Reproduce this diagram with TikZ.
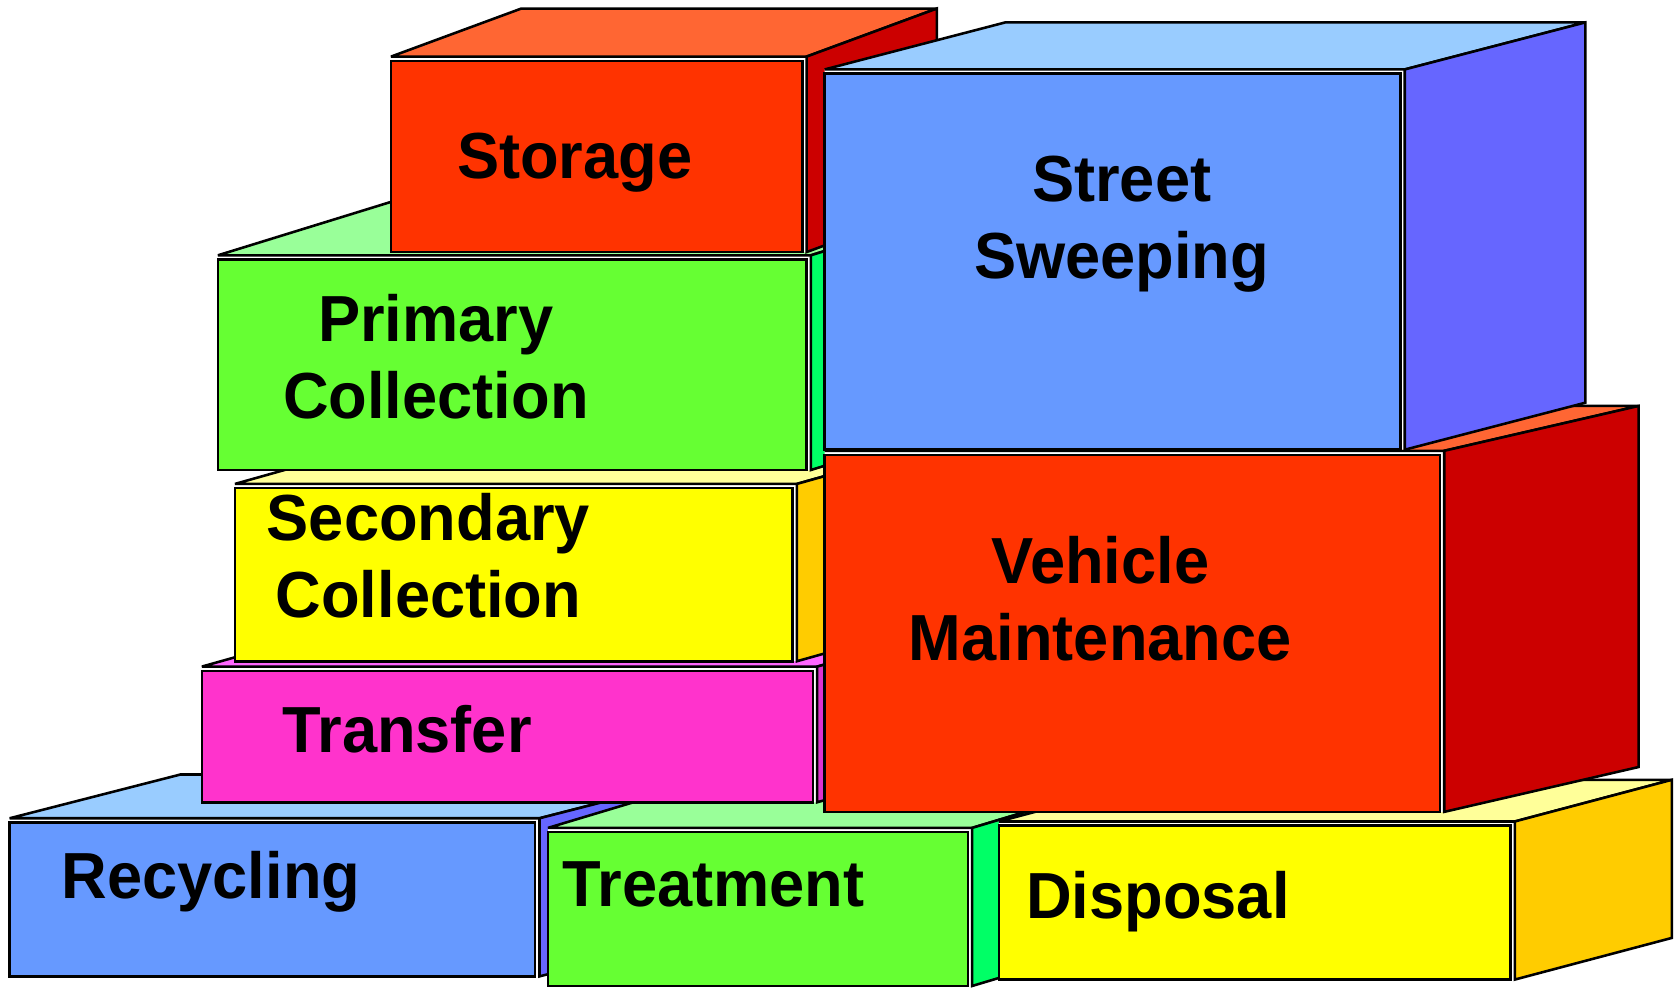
\documentclass[tikz,border=0pt]{standalone}
\usepackage{fontspec}
\newfontfamily\lblfam[FakeStretch=0.97]{Liberation Sans}
\newcommand\lblfont{\lblfam\bfseries\fontsize{30.5}{36}\selectfont}

% colour sets for the blocks
\definecolor{redF}{HTML}{FF3300}\definecolor{redT}{HTML}{FF6633}\definecolor{redS}{HTML}{CC0000}
\definecolor{bluF}{HTML}{6699FF}\definecolor{bluT}{HTML}{99CCFF}\definecolor{bluS}{HTML}{6666FF}
\definecolor{grnF}{HTML}{66FF33}\definecolor{grnT}{HTML}{99FF99}\definecolor{grnS}{HTML}{00FF66}
\definecolor{yelF}{HTML}{FFFF00}\definecolor{yelT}{HTML}{FFFF99}\definecolor{yelS}{HTML}{FFCC00}
\definecolor{pnkF}{HTML}{FF33CC}\definecolor{pnkT}{HTML}{FF66FF}\definecolor{pnkS}{HTML}{DD33CC}

\def\cgap{4}
% \cuboid{x1}{y1}{x2}{y2}{depth dx}{depth rise}{front}{top}{side}
\newcommand\cuboid[9]{%
  \fill[white] (#1,#4) -- (#1,#2-\cgap) -- (#1+#5,#2-#6-\cgap) -- (#3+\cgap+#5,#2-#6-\cgap)
    -- (#3+\cgap+#5,#4-#6) -- (#3+\cgap,#4) -- cycle;
  \draw[edge,fill=#8] (#1,#2-\cgap) -- (#1+#5,#2-#6-\cgap) -- (#3+\cgap+#5,#2-#6-\cgap)
    -- (#3+\cgap,#2-\cgap) -- cycle;
  \draw[edge,fill=#9] (#3+\cgap,#2-\cgap) -- (#3+\cgap+#5,#2-#6-\cgap)
    -- (#3+\cgap+#5,#4-#6) -- (#3+\cgap,#4) -- cycle;
  \draw[edge,fill=#7] (#1,#2) rectangle (#3,#4);
}

\begin{document}
\begin{tikzpicture}[x=0.5pt,y=-0.5pt,
  edge/.style={draw=black,line width=1.2pt,line join=miter,miter limit=3},
  lbl/.style={anchor=base,inner sep=0pt,font=\lblfont,text=black}]
\fill[white] (0,0) rectangle (1568,925);
\useasboundingbox (0,0) rectangle (1568,925);

% bottom row
\cuboid{9}{770}{501}{914}{160}{41}{bluF}{bluT}{bluS}
\cuboid{513}{779}{906}{923}{150}{45}{grnF}{grnT}{grnS}
\cuboid{935}{773}{1414}{917}{147}{39}{yelF}{yelT}{yelS}
% left stack
\cuboid{189}{628}{761}{751}{160}{45}{pnkF}{pnkT}{pnkS}
\cuboid{220}{457}{742}{619}{160}{45}{yelF}{yelT}{yelS}
\cuboid{204}{243}{755}{440}{162}{50}{grnF}{grnT}{grnS}
\cuboid{366}{57}{751}{236}{122}{45}{redF}{redT}{redS}
% right stack
\cuboid{772}{426}{1348}{760}{182}{42}{redF}{redT}{redS}
\cuboid{772}{69}{1311}{421}{169}{44}{bluF}{bluT}{bluS}

% labels
\node[lbl] (storage) at (538,167) {Storage};
\node[lbl] (primary) at (408,320) {\begin{tabular}[t]{@{}c@{}}Primary\\Collection\end{tabular}};
\node[lbl] (secondary) at (401,506) {\begin{tabular}[t]{@{}c@{}}Secondary\\Collection\end{tabular}};
\node[lbl] (transfer) at (381,704) {Transfer};
\node[lbl] (street) at (1050,189) {\begin{tabular}[t]{@{}c@{}}Street\\Sweeping\end{tabular}};
\node[lbl] (vehicle) at (1030,546) {\begin{tabular}[t]{@{}c@{}}Vehicle\\Maintenance\end{tabular}};
\node[lbl] (recycling) at (197.5,841) {Recycling};
\node[lbl] (treatment) at (668,849) {Treatment};
\node[lbl] (disposal) at (1084,860) {Disposal};
\end{tikzpicture}
\end{document}
